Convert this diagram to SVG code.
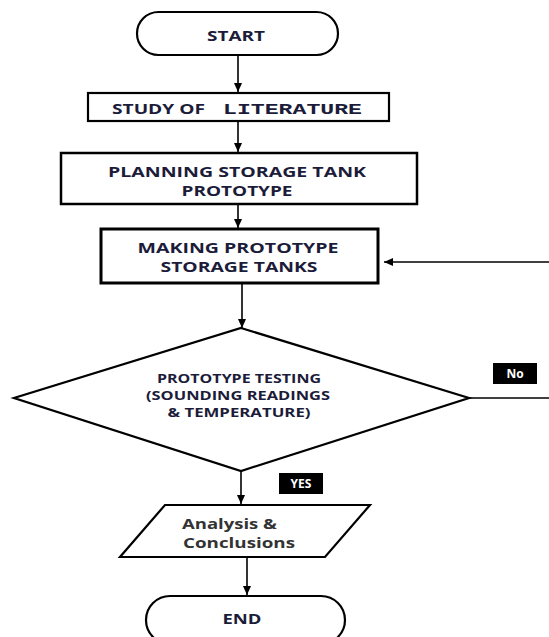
<svg xmlns="http://www.w3.org/2000/svg" width="549" height="637" viewBox="0 0 549 637">
<style>
.shape{fill:#fff;stroke:#000;stroke-width:2.2}
.t{font-family:"Open Sans","Liberation Sans",sans-serif;font-weight:bold;fill:#1c1c3a;text-anchor:middle}
.lbl{font-family:"Open Sans","Liberation Sans",sans-serif;font-weight:bold;fill:#fff;text-anchor:middle;font-size:12px}
.conn{fill:none;stroke:#000;stroke-width:1.6}
.an{font-family:"Open Sans","Liberation Sans",sans-serif;font-weight:bold;font-size:14.5px;fill:#333}
</style>
<defs>
<marker id="ah" markerWidth="10" markerHeight="10" refX="9" refY="5" orient="auto" markerUnits="userSpaceOnUse">
<path d="M0,1 L9,5 L0,9 Z" fill="#000"/>
</marker>
</defs>
<rect width="549" height="637" fill="#fff"/>
<g id="connectors">
<line class="conn" x1="238" y1="55" x2="238" y2="92" marker-end="url(#ah)"/>
<line class="conn" x1="238" y1="121" x2="238" y2="152" marker-end="url(#ah)"/>
<line class="conn" x1="238" y1="205" x2="238" y2="228" marker-end="url(#ah)"/>
<line class="conn" x1="242" y1="284" x2="242" y2="328" marker-end="url(#ah)"/>
<line class="conn" x1="241" y1="471" x2="241" y2="504" marker-end="url(#ah)"/>
<line class="conn" x1="247" y1="558" x2="247" y2="595" marker-end="url(#ah)"/>
<line class="conn" x1="469" y1="398" x2="549" y2="398"/>
<line class="conn" x1="549" y1="262" x2="384" y2="262" marker-end="url(#ah)"/>
</g>
<g id="start">
<rect class="shape" x="137" y="12" width="201" height="43" rx="21.5"/>
<text class="t" x="236" y="41" font-size="14" textLength="58" lengthAdjust="spacingAndGlyphs">START</text>
</g>
<g id="study">
<rect class="shape" x="88" y="93" width="301" height="28"/>
<text class="t" x="158.5" y="114" font-size="14" textLength="93" lengthAdjust="spacingAndGlyphs">STUDY OF</text>
<text x="292.5" y="114" font-family="Liberation Mono, Courier New, monospace" font-weight="bold" font-size="15" fill="#1c1c3a" text-anchor="middle" textLength="139" lengthAdjust="spacingAndGlyphs">LITERATURE</text>
</g>
<g id="planning">
<rect class="shape" x="61" y="153" width="356" height="51" style="stroke-width:2.5"/>
<text class="t" x="237" y="177" font-size="14" textLength="258" lengthAdjust="spacingAndGlyphs">PLANNING STORAGE TANK</text>
<text class="t" x="237" y="196" font-size="14" textLength="111" lengthAdjust="spacingAndGlyphs">PROTOTYPE</text>
</g>
<g id="making">
<rect class="shape" x="101" y="229" width="277" height="54" style="stroke-width:3"/>
<text class="t" x="238" y="253" font-size="14" textLength="201" lengthAdjust="spacingAndGlyphs">MAKING PROTOTYPE</text>
<text class="t" x="239" y="272" font-size="14" textLength="157" lengthAdjust="spacingAndGlyphs">STORAGE TANKS</text>
</g>
<g id="testing">
<polygon class="shape" points="241,328 469,398 241,471 14,398"/>
<text class="t" x="239" y="383" font-size="11.5" textLength="164" lengthAdjust="spacingAndGlyphs">PROTOTYPE TESTING</text>
<text class="t" x="238" y="400" font-size="11.5" textLength="184" lengthAdjust="spacingAndGlyphs">(SOUNDING READINGS</text>
<text class="t" x="239" y="417" font-size="11.5" textLength="143" lengthAdjust="spacingAndGlyphs">&amp; TEMPERATURE)</text>
</g>
<g id="label-no">
<rect x="493" y="363" width="44" height="21" fill="#000"/>
<text class="lbl" x="515" y="378">No</text>
</g>
<g id="label-yes">
<rect x="279" y="473" width="44" height="21" fill="#000"/>
<text class="lbl" x="301" y="488">YES</text>
</g>
<g id="analysis">
<polygon class="shape" points="165,505 370,505 325,557 120,557"/>
<text class="an" x="182" y="529" textLength="95" lengthAdjust="spacingAndGlyphs">Analysis &amp;</text>
<text class="an" x="183" y="548" textLength="112" lengthAdjust="spacingAndGlyphs">Conclusions</text>
</g>
<g id="end">
<rect class="shape" x="146" y="596" width="199" height="48" rx="24"/>
<text class="t" x="242" y="624" font-size="14" textLength="39" lengthAdjust="spacingAndGlyphs">END</text>
</g>
</svg>
